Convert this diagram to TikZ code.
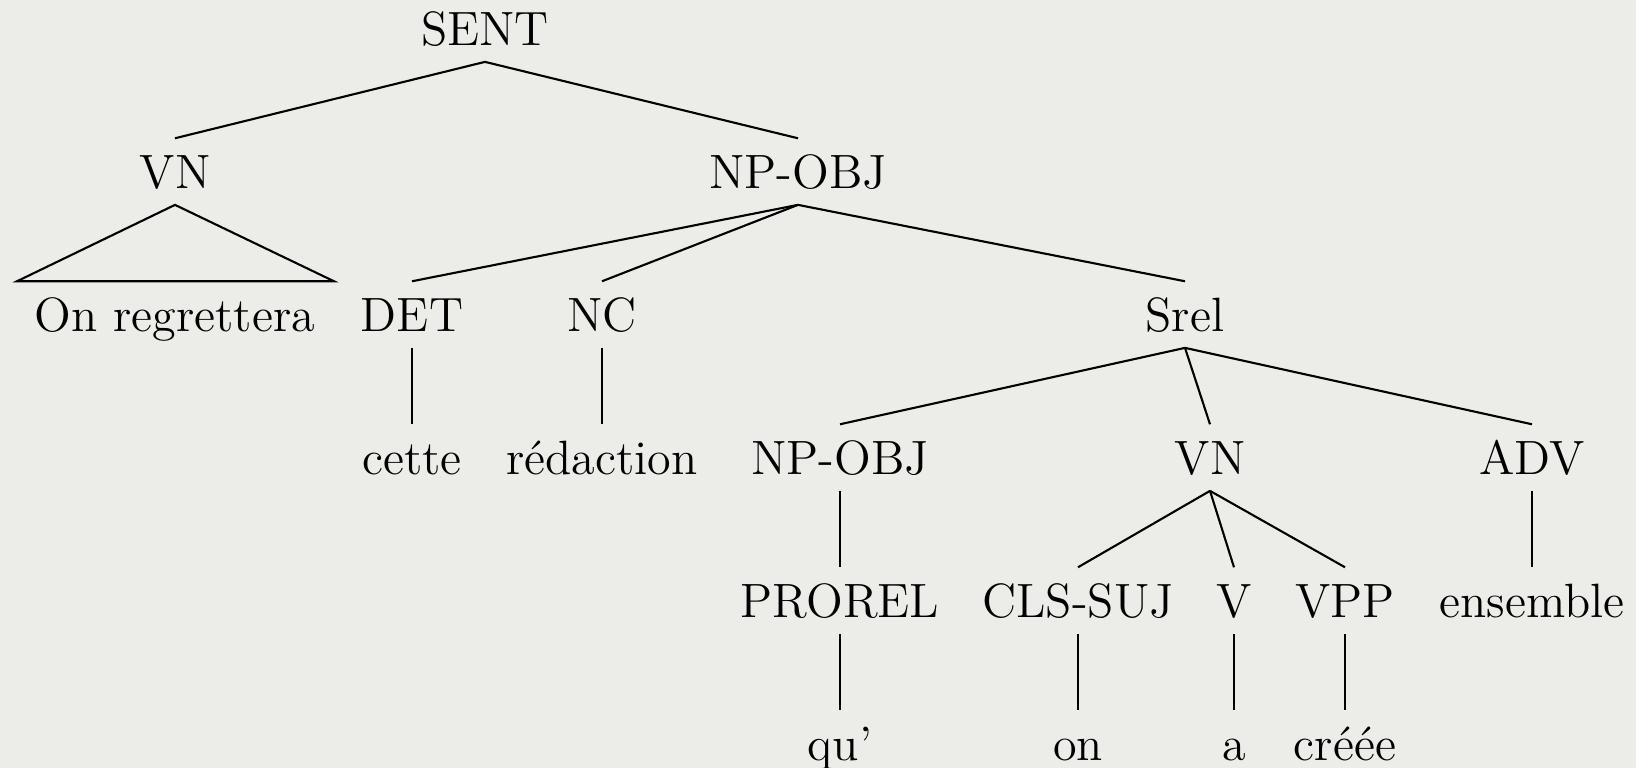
\documentclass[tikz,border=0pt]{standalone}
\usepackage{tikz}
\usetikzlibrary{positioning}
\definecolor{paper}{RGB}{236,236,232}

\begin{document}
\begin{tikzpicture}[cat/.style={anchor=base, inner xsep=0pt, inner ysep=4.5pt, text height=9.35pt, text depth=0pt, font=\fontsize{13.7pt}{16pt}\selectfont}, line width=0.6pt]
        \fill[paper] (0,0) rectangle (16.36,-7.68);
        \useasboundingbox (0,0) rectangle (16.36,-7.68);

        % level 0 and 1
        \node[cat] (sent) at (4.85,-0.45) {SENT};
        \node[cat] (vn) at (1.75,-1.88) {VN};
        \node[cat] (npobj) at (7.98,-1.88) {NP-OBJ};
        % level 2
        \node[cat] (onreg) at (1.75,-3.31) {On regrettera};
        \node[cat] (det) at (4.12,-3.31) {DET};
        \node[cat] (nc) at (6.02,-3.31) {NC};
        \node[cat] (srel) at (11.85,-3.31) {Srel};
        % level 3
        \node[cat] (cette) at (4.12,-4.74) {cette};
        \node[cat] (redaction) at (6.02,-4.74) {rédaction};
        \node[cat] (npobjb) at (8.40,-4.74) {NP-OBJ};
        \node[cat] (vnb) at (12.10,-4.74) {VN};
        \node[cat] (adv) at (15.32,-4.74) {ADV};
        % level 4
        \node[cat] (prorel) at (8.40,-6.17) {PROREL};
        \node[cat] (clssuj) at (10.78,-6.17) {CLS-SUJ};
        \node[cat] (v) at (12.34,-6.17) {V};
        \node[cat] (vpp) at (13.45,-6.17) {VPP};
        \node[cat] (ensemble) at (15.32,-6.17) {ensemble};
        % level 5
        \node[cat] (qu) at (8.40,-7.60) {qu’};
        \node[cat] (on) at (10.78,-7.60) {on};
        \node[cat] (a) at (12.34,-7.60) {a};
        \node[cat] (creee) at (13.45,-7.60) {créée};

        \coordinate (tl) at ([xshift=-1.58cm]onreg.north);
        \coordinate (tr) at ([xshift=1.59cm]onreg.north);
        \draw (vn.south) -- (tl) -- (tr) -- cycle;

        \path[draw]
        (sent.south) edge (vn.north)
        (sent.south) edge (npobj.north)
        (npobj.south) edge (det.north)
        (npobj.south) edge (nc.north)
        (npobj.south) edge (srel.north)
        (det.south) edge (cette.north)
        (nc.south) edge (redaction.north)
        (srel.south) edge (npobjb.north)
        (srel.south) edge (vnb.north)
        (srel.south) edge (adv.north)
        (npobjb.south) edge (prorel.north)
        (vnb.south) edge (clssuj.north)
        (vnb.south) edge (v.north)
        (vnb.south) edge (vpp.north)
        (adv.south) edge (ensemble.north)
        (prorel.south) edge (qu.north)
        (clssuj.south) edge (on.north)
        (v.south) edge (a.north)
        (vpp.south) edge (creee.north);
    \end{tikzpicture}
\end{document}
